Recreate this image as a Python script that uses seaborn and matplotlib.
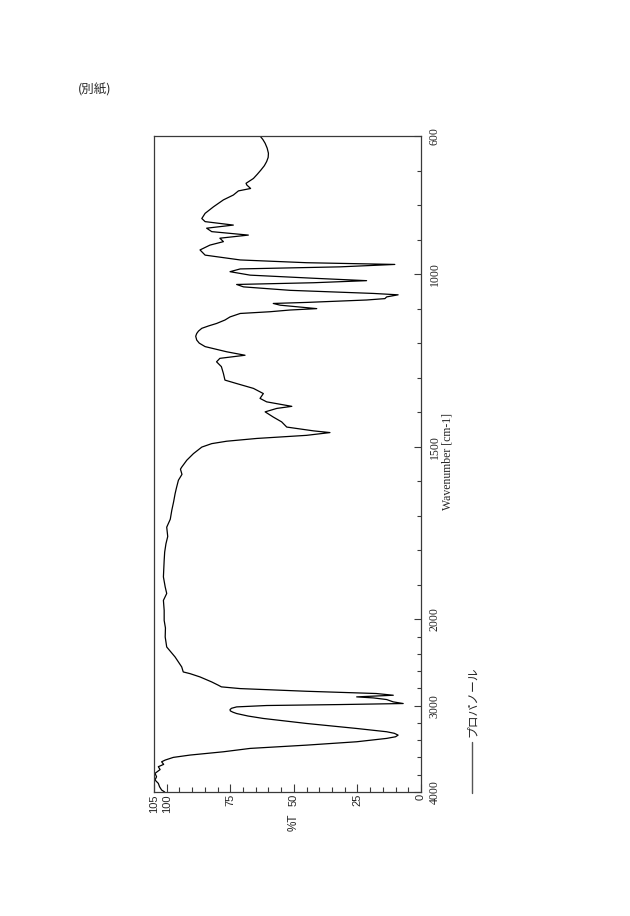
#!/usr/bin/env python3
"""IR spectrum of propanol, drawn rotated like the scanned JP sheet."""

import matplotlib
matplotlib.use("Agg")
import matplotlib.pyplot as plt
import numpy as np
import pandas as pd
import seaborn as sns
from matplotlib.lines import Line2D

# spectrum (wavenumber cm-1, %T)
WAVENUMBER = [
    600, 610, 621, 635, 650, 662, 674, 686, 699, 711, 723, 737, 742, 752, 759,
    771, 785, 805, 824, 839, 848, 858, 867, 877, 887, 896, 906, 916, 930, 945,
    959, 967, 972, 979, 985, 993, 1003, 1012, 1019, 1025, 1030, 1037, 1047, 1056,
    1060, 1066, 1071, 1075, 1082, 1085, 1090, 1100, 1104, 1109, 1114, 1124, 1133,
    1143, 1150, 1157, 1165, 1172, 1180, 1191, 1200, 1210, 1225, 1235, 1244, 1254,
    1268, 1288, 1307, 1317, 1331, 1346, 1360, 1370, 1383, 1389, 1399, 1414, 1428,
    1443, 1447, 1454, 1459, 1467, 1476, 1484, 1491, 1501, 1520, 1539, 1559, 1565,
    1580, 1597, 1620, 1636, 1660, 1684, 1710, 1733, 1760, 1781, 1805, 1829, 1877,
    1906, 1925, 1945, 1974, 2012, 2100, 2204, 2320, 2436, 2551, 2609, 2629, 2667,
    2725, 2763, 2782, 2802, 2833, 2859, 2879, 2898, 2910, 2929, 2956, 2975, 2987,
    2998, 3014, 3030, 3045, 3060, 3075, 3091, 3120, 3148, 3206, 3264, 3302, 3320,
    3341, 3360, 3379, 3418, 3457, 3495, 3534, 3572, 3599, 3630, 3650, 3680, 3707,
    3740, 3784, 3823, 3861, 3900, 3940, 3977, 4000,
]
TRANSMITTANCE = [
    63.3, 62.2, 61.3, 60.5, 60.0, 60.1, 60.7, 61.6, 63.0, 64.4, 65.9, 68.8, 68.5,
    67.0, 71.8, 73.8, 77.7, 81.6, 84.9, 86.2, 84.9, 73.8, 84.3, 82.3, 67.9, 79.1,
    77.7, 83.0, 86.9, 84.9, 71.1, 45.0, 10.3, 31.9, 71.1, 75.1, 67.2, 42.3, 21.4,
    42.3, 72.5, 69.8, 51.5, 18.7, 9.0, 13.5, 14.2, 21.4, 45.0, 58.1, 55.4, 41.0,
    51.5, 59.4, 71.1, 75.1, 77.1, 80.4, 83.5, 86.2, 87.5, 88.2, 88.6, 88.2, 87.2,
    84.9, 76.4, 69.2, 79.1, 80.4, 78.5, 77.7, 77.1, 72.5, 65.9, 62.0, 63.3, 60.7,
    50.8, 56.7, 61.3, 58.1, 54.8, 52.8, 48.9, 42.3, 35.8, 45.0, 64.6, 76.4, 82.3,
    86.2, 89.5, 92.1, 94.1, 94.6, 94.0, 95.4, 96.2, 96.7, 97.3, 98.0, 98.6, 100.0,
    99.6, 100.3, 100.8, 101.0, 101.3, 100.6, 100.0, 101.3, 101.0, 101.0, 100.5,
    100.6, 100.0, 96.7, 94.1, 93.5, 90.8, 86.9, 82.3, 79.7, 78.5, 71.1, 45.0, 17.6,
    10.9, 25.3, 18.7, 13.5, 10.9, 7.0, 31.9, 60.7, 72.5, 74.5, 75.1, 75.0, 74.0,
    72.5, 68.0, 62.0, 45.0, 25.3, 13.5, 10.5, 9.0, 10.0, 13.5, 25.3, 45.0, 67.2,
    77.7, 90.8, 97.4, 100.6, 102.0, 101.2, 103.3, 102.6, 104.6, 104.0, 104.6,
    103.3, 102.8, 102.0, 100.8,
]

T_MAJOR = [0, 25, 50, 75, 100, 105]
T_MINOR = [5, 10, 15, 20, 30, 35, 40, 45, 55, 60, 65, 70, 80, 85, 90, 95]
WN_MAJOR = [600, 1000, 1500, 2000, 3000, 4000]
WN_MINOR = [700, 800, 900, 1100, 1200, 1300, 1400, 1600, 1700, 1800, 1900,
            2200, 2400, 2600, 2800, 3200, 3400, 3600, 3800]

SAMPLE = "プロパノール"
NOTE = "(別紙)"

W, H = 630, 916
AX_LEFT, AX_RIGHT, AX_TOP, AX_BOTTOM = 154, 421, 136, 792
FRAME = "#3a3a3a"


def fwd(w):
    # above 2000 cm-1 the chart is compressed 4x
    w = np.asarray(w, dtype=float)
    return np.where(w <= 2000, w, 2000 + (w - 2000) / 4)


def inv(u):
    u = np.asarray(u, dtype=float)
    return np.where(u <= 2000, u, 2000 + (u - 2000) * 4)


def main():
    sns.set_style("white")
    plt.rcParams["font.family"] = ["Liberation Sans", "Noto Sans CJK JP", "DejaVu Sans"]

    fig = plt.figure(figsize=(W / 100, H / 100), dpi=100)
    ax = fig.add_axes([AX_LEFT / W, 1 - AX_BOTTOM / H,
                       (AX_RIGHT - AX_LEFT) / W, (AX_BOTTOM - AX_TOP) / H])

    df = pd.DataFrame({"wn": WAVENUMBER, "T": TRANSMITTANCE})
    sns.lineplot(data=df, x="T", y="wn", sort=False, estimator=None,
                 color="black", lw=0.9, ax=ax)

    ax.set_yscale("function", functions=(fwd, inv))
    ax.set_xlim(105, 0)
    ax.set_ylim(4000, 600)

    ax.set_xticks(T_MAJOR, labels=[str(v) for v in T_MAJOR], rotation=90,
                  fontsize=8, fontfamily="Liberation Sans")
    ax.set_xticks(T_MINOR, minor=True)
    ax.set_yticks(WN_MAJOR, labels=[str(v) for v in WN_MAJOR], rotation=90,
                  va="center", fontsize=8.5, fontfamily="Liberation Serif")
    ax.set_yticks(WN_MINOR, minor=True)
    ax.yaxis.set_minor_formatter(plt.NullFormatter())

    ax.tick_params(axis="x", which="both", direction="in", bottom=True,
                   top=False, color=FRAME, width=0.8, pad=1.5)
    ax.tick_params(axis="x", which="major", length=6)
    ax.tick_params(axis="x", which="minor", length=3.5)
    ax.tick_params(axis="y", which="both", direction="in", left=False,
                   right=True, labelleft=False, labelright=True,
                   color=FRAME, width=0.8, pad=5.5)
    ax.tick_params(axis="y", which="major", length=5)
    ax.tick_params(axis="y", which="minor", length=3)

    ax.set_xlabel("")
    ax.set_ylabel("")
    for side in ax.spines.values():
        side.set_visible(True)
        side.set_color(FRAME)
        side.set_linewidth(0.9)

    fig.text(294 / W, 1 - 822 / H, "%T", rotation=90, ha="center", va="center",
             fontsize=8.5, fontfamily="Liberation Sans")
    fig.text(447 / W, 1 - 462 / H, "Wavenumber [cm-1]", rotation=90,
             ha="center", va="center", fontsize=8.5, fontfamily="Liberation Serif")

    # legend entry, drawn sideways as on the sheet
    fig.add_artist(Line2D([472 / W, 472 / W], [1 - 742 / H, 1 - 793 / H],
                          color="#555555", lw=1.0))
    fig.text(472 / W, 1 - 737 / H, SAMPLE, rotation=90, ha="center",
             va="bottom", fontsize=8.5,
             fontfamily=["Noto Sans CJK JP", "DejaVu Sans"])

    fig.text(78 / W, 1 - 90 / H, NOTE, ha="left", va="center", fontsize=9,
             fontfamily=["Noto Sans CJK JP", "DejaVu Sans"])

    fig.savefig("out.png", dpi=100, facecolor="white")
    plt.close(fig)


if __name__ == "__main__":
    main()
